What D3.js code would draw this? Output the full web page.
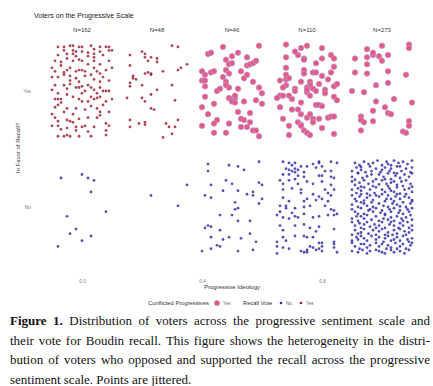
<!DOCTYPE html>
<html><head><meta charset="utf-8">
<script src="https://cdn.jsdelivr.net/npm/d3@7"></script>
<style>body{margin:0;background:#fff}</style>
</head><body>
<svg id="chart" width="433" height="386"></svg>
<script>
// ---------------- DATA ----------------
const groupIdeology = [0, 0.25, 0.5, 0.75, 1.0];
const groupLabels = ["N=162", "N=48", "N=46", "N=110", "N=273"];
const xTicks = [0.0, 0.4, 0.8];
const voteLevels = [1, 2];               // 1 = No, 2 = Yes
const voteNames = ["No", "Yes"];
const conflictedGroup = [false, false, true, true, true]; // Yes voters in these groups are "Conflicted Progressives"

// Jitter offsets, in hundredths of a unit: x,y pairs
const yesJitterG1 = [-8,38,-6,38,-4,39,-3,39,-1,38,0,38,3,39,6,38,8,38,9,38,
 -8,31,-6,35,-5,32,-3,35,-3,32,-2,34,-2,30,0,34,2,33,4,29,4,32,6,34,7,31,9,35,10,35,
 -9,26,-7,25,-5,28,-3,26,-1,27,0,26,2,23,4,26,6,23,9,26,
 -10,20,-9,17,-6,16,-5,18,-4,20,-2,17,-1,18,0,18,1,17,4,20,5,17,8,18,
 -10,12,-8,12,-6,14,-4,13,-4,9,-2,11,1,13,4,10,6,8,9,9,
 -10,1,-9,5,-6,5,-4,6,-2,3,-1,3,0,4,2,5,3,3,4,1,6,3,8,0,9,0,7,0,
 -9,-7,-8,-7,-7,-7,-5,-3,-3,-5,-1,-7,0,-9,2,-9,3,-5,4,-7,5,-6,6,-5,8,-9,10,-7,
 -9,-14,-8,-12,-7,-10,-5,-15,-2,-15,1,-16,3,-13,5,-15,6,-18,9,-18,
 -9,-23,-8,-26,-5,-25,-4,-26,-3,-27,-1,-24,2,-23,5,-23,6,-21,
 -10,-30,-8,-30,-7,-33,-5,-32,-2,-31,0,-31,1,-30,4,-31,8,-34,8,-38,
 -8,-39,-6,-39,-5,-38,-4,-39,-1,-39,2,-35,3,-39,
 -7,22,3,14,7,12,-1,8,5,-2,-3,-20,8,-28,-6,-18,2,30,10,20,-10,-20,0,-2,7,-12,-5,2,4,36,-2,-34,9,-30,1,0,-8,-2,6,15];
const yesJitterG2 = [5,39,7,38,-9,31,-5,34,-4,32,-4,29,-2,29,0,28,-3,26,0,25,-9,22,10,23,8,20,7,18,2,17,
 -8,13,-4,15,-3,16,-2,14,-2,15,-8,11,-7,10,-9,7,-9,4,-5,5,5,5,0,1,-2,-3,-10,-6,-5,-6,-4,-9,6,-8,
 -2,-15,-1,-16,-9,-25,-6,-28,-4,-27,-4,-29,7,-25,3,-28,4,-31,6,-31,-9,-31,5,-37,2,-40];
const yesJitterG3 = [9,39,-8,32,-7,33,2,33,5,29,-2,27,-1,23,0,24,5,22,6,23,7,24,-10,17,-9,14,-7,16,-6,17,
 -2,18,-1,15,3,17,-10,9,-9,9,-9,4,-3,12,-2,8,-2,5,-1,3,4,11,7,8,9,3,-5,0,2,2,-1,-6,0,-7,1,-6,1,-4,
 0,-9,-9,-5,-6,-11,1,-10,4,-9,8,-8,10,-11,-10,-14,6,-19,-5,-25,-6,-28,-1,-28,3,-24,4,-25,6,-27,
 3,-31,5,-31,7,-34,8,-34,-6,-36,9,-39,-3,38,8,26,-4,2,10,-2,-8,-20,2,-18,-2,-36,5,14,0,30,-10,-30];
const yesJitterG4 = [-7,40,-2,37,0,39,5,37,-7,29,-3,31,-1,28,-1,27,5,28,8,31,9,28,-7,20,-1,18,-1,15,2,16,
 3,16,8,16,9,21,-7,14,-9,9,-7,10,-6,11,-7,5,-8,3,1,8,1,5,2,2,0,3,3,0,4,6,5,13,6,1,9,4,10,6,-4,2,-4,0,
 0,-1,0,1,-9,-4,-8,-4,-6,-4,-5,-7,-2,-10,1,-4,9,-5,10,-8,-9,-14,-5,-16,-3,-16,-2,-20,3,-12,4,-12,5,-13,
 0,-23,1,-20,2,-24,2,-27,4,-24,7,-23,8,-22,9,-22,-6,-30,-3,-27,-2,-29,-2,-30,5,-32,-1,-34,0,-36,-6,-38,
 9,-37,-4,34,3,24,6,-2,-8,-24,1,-38,-2,8,7,10,-10,-6];
const yesJitterG5 = [0,39,9,40,9,37,-5,36,-9,28,-5,29,-3,31,-3,33,-1,30,2,31,0,26,-5,23,-9,16,-5,15,2,17,
 8,14,-2,5,2,7,-10,0,-6,-1,4,-7,-2,-9,10,-10,1,-14,-3,-17,2,-19,3,-20,-7,-22,-7,-25,-6,-27,-3,-26,
 9,-26,9,-30,-7,-34,7,-35,8,-36];

const noJitterG1 = [-7,25,0,28,2,25,4,23,3,13,8,-4,-5,-8,-2,-19,-4,-23,3,-25,0,-29,-8,-34];
const noJitterG2 = [-2,10,10,19,7,1];
const noJitterG3 = [-8,37,-8,31,-7,19,-9,10,-7,8,-4,-7,-8,-16,-9,-18,-7,-17,-4,-20,-7,-26,-5,-33,-4,-34,
 -7,-36,-10,-38,-1,36,2,35,4,32,9,39,-2,23,0,20,9,21,10,19,-3,14,2,14,5,11,7,13,7,10,10,7,9,3,1,4,
 2,-1,1,-2,0,-7,2,-12,6,-12,6,-23,-3,-28,-1,-26,3,-27,8,-30,2,-38,7,-37];
const noJitterG4 = [-8,39,-6,38,-5,36,-4,38,-2,35,2,37,4,39,4,38,8,39,10,38,-7,33,-6,32,-5,31,-4,33,-3,32,
 -1,30,0,35,3,34,5,35,6,31,8,31,-8,28,-6,28,-4,30,-3,27,-1,26,4,27,5,27,8,26,9,25,-6,23,-4,24,-8,20,
 -8,15,-5,16,-3,20,-2,15,0,22,2,20,5,22,6,15,8,19,9,15,-9,23,-8,8,-2,12,2,11,4,9,7,12,8,10,-6,5,-1,5,
 0,7,3,6,5,7,7,5,-9,1,-7,1,-7,-1,-4,-1,-1,0,1,1,6,1,8,-2,9,-3,-9,-4,-5,-5,-10,-7,-8,-9,-6,-10,-4,-8,
 -3,-9,-1,-6,2,-9,4,-8,7,-7,9,-7,10,-6,-9,-16,-8,-20,-4,-16,-1,-15,1,-18,3,-21,4,-17,9,-19,-8,-26,
 -7,-29,-4,-25,-1,-25,0,-26,2,-26,4,-31,5,-31,9,-30,9,-32,-10,-30,-10,-34,-8,-35,-6,-36,-2,-38,-1,-39,
 0,-37,1,-34,2,-35,3,-37,4,-36,5,-38,5,-34,9,-35,10,-39,-10,-40,0,-39];
const noJitterG5 = [-9,38,-7.5,36,-6,39,-4.5,37,-3,38,-1.5,40,0,36,1.5,39,2,37,4,40,5.5,38,5,35,7,39,8.5,37,10,40,-7,34.5,3,36,
 -10,31,-8.5,34,-7,32,-5.5,30,-4,35,-3.5,31,-2,33,-0.5,30,1,34,2.5,31,3,33,4,29.5,6,35,6.5,31,8,33,9.5,30,10,34,-8,29.5,0,32,
 -10,26,-8,29,-6.5,25,-5,26.5,-3.5,28,-2,24,-1,28,0.5,26,2,29,3,24,4.5,27,6,25,7.5,28,9,26,10,29,-9,23.5,5,29,1,24,
 -10,22,-9,19,-7.5,21,-6,23,-4.5,20,-3,22,-3,18,-1,19.5,0,23,1.5,20,2,18,4,22,5,19,6.5,22,7,18,8,23,9.5,20,10,17.5,-7,17.5,3,21,
 -10,15,-8.5,12,-7,14,-6,17,-4,15,-2.5,12,-2,17,0,15,1,13,2.5,16,4,13,5,17,6,11.5,7.5,15,9,16,10,13,-8,16,3,14,-5,11.5,
 -10,10,-9,7,-7.5,9,-7,11,-5,8,-4,10,-3,6,-1,9,0,11,1.5,7,2,10,3,7,4.5,9,5,11,6,7,7.5,9,8,11,9,8,10,6,-6,5.5,-2,10,
 -10,2,-8.5,5,-8,0,-6,3,-5,1,-3.5,4,-3,0,-1,3,0.5,1,1,5,2,0,3.5,3,4,5,5,2,7,4,8,0,9.5,3,10,5,-7,4,6,0.5,
 -10,-2,-9,-4,-7,-1,-6,-6,-4.5,-3,-3,-4,-2,-1,-0.5,-5,0,-3,1,-6,2.5,-2,3,-4,4,-1,5.5,-5,6,-3,7,-6,8.5,-2,9,-4,10,-1,-8,-6,-4,-2,
 -10,-10,-8.5,-8,-8,-12,-6,-10,-5,-7,-3.5,-11,-2,-8,-1,-12,0.5,-10,1,-7,3,-9,4,-12,5,-8,6.5,-10,7,-12,8,-9,9.5,-7,10,-11,-7,-8,2,-11,
 -10,-13,-9,-16,-7.5,-14,-7,-18,-5,-13,-4,-17,-2.5,-15,-1,-16,0,-13,1,-18,2.5,-15,3,-13,4,-16,5.5,-18,6,-14,7,-16,8.5,-13,9,-18,10,-16,-6,-15,-2,-18,
 -10,-24,-9,-20,-7,-22,-6,-19,-4.5,-23,-3,-20,-2,-24,-1,-21,0,-19,2,-22,3.5,-24,4,-20,5,-23,6,-19,7.5,-21,8,-24,9,-22,10,-20,-8,-23,1,-24,
 -10,-29,-8.5,-26,-8,-28,-6,-27,-5,-29,-3.5,-25,-2,-28,-1,-26,0.5,-30,1,-27,2,-25,3,-29,5,-26,6,-29,7,-25,8.5,-28,9,-30,10,-27,-7,-25,4,-28,
 -10,-31,-9,-34,-7.5,-36,-7,-32,-5,-35,-4,-33,-2,-31,-1,-34,0,-32,1.5,-36,2,-33,3,-35,4.5,-31,6,-34,7,-32,8,-36,9.5,-33,10,-31,-6,-32,5,-36,
 -10,-38,-8,-39,-6.5,-37,-5,-40,-4,-38,-2,-37,0,-39,1,-40,3,-37,4,-39,6,-38,7.5,-40,9,-37,-1,-38];

const yesJitter = [yesJitterG1, yesJitterG2, yesJitterG3, yesJitterG4, yesJitterG5];
const noJitter = [noJitterG1, noJitterG2, noJitterG3, noJitterG4, noJitterG5];

const captionLines = [
  "Figure 1. Distribution of voters across the progressive sentiment scale and",
  "their vote for Boudin recall. This figure shows the heterogeneity in the distri-",
  "bution of voters who opposed and supported the recall across the progressive",
  "sentiment scale. Points are jittered."
];

// ---------------- BUILD POINTS ----------------
const points = [];
function addPoints(arrs, vote) {
  arrs.forEach((arr, g) => {
    for (let i = 0; i < arr.length; i += 2) {
      points.push({
        ideology: groupIdeology[g] + arr[i] / 100,
        vote: voteLevels[vote] + arr[i + 1] / 100,
        voteName: voteNames[vote],
        conflicted: vote === 1 && conflictedGroup[g]
      });
    }
  });
}
addPoints(noJitter, 0);
addPoints(yesJitter, 1);

// ---------------- DRAW ----------------
const svg = d3.select("#chart");
const sans = "'Liberation Sans', Arial, Helvetica, sans-serif";
const colYes = "#9b1f2e", colNo = "#2f2ba3", colConfFill = "#e95a78", colConfStroke = "#b890e0";

const x = d3.scaleLinear().domain([-0.14, 1.14]).range([40, 424]);
const y = d3.scaleLinear().domain([1, 2]).range([207, 91]);

// title
svg.append("text").attr("x", 34).attr("y", 17.5).attr("font-family", sans)
  .attr("font-size", 7).attr("fill", "#222").text("Voters on the Progressive Scale");

// N labels
svg.selectAll("text.nlab").data(groupLabels).join("text").attr("class", "nlab")
  .attr("x", (d, i) => x(groupIdeology[i])).attr("y", y(2.53) + 2)
  .attr("text-anchor", "middle").attr("font-family", sans).attr("font-size", 6)
  .attr("fill", "#333").text(d => d);

// points
const g = svg.append("g");
g.selectAll("circle.pt").data(points.filter(p => !p.conflicted)).join("circle")
  .attr("class", "pt")
  .attr("cx", d => x(d.ideology)).attr("cy", d => y(d.vote)).attr("r", 1.4)
  .attr("fill", d => d.voteName === "Yes" ? colYes : colNo)
  .attr("fill-opacity", 0.82);
g.selectAll("circle.cf").data(points.filter(p => p.conflicted)).join("circle")
  .attr("class", "cf")
  .attr("cx", d => x(d.ideology)).attr("cy", d => y(d.vote)).attr("r", 2.75)
  .attr("fill", colConfFill).attr("stroke", colConfStroke).attr("stroke-width", 0.8);

// x axis
const xAxis = svg.append("g").attr("transform", "translate(0,277)")
  .call(d3.axisBottom(x).tickValues(xTicks).tickFormat(d3.format(".1f")).tickSize(0).tickPadding(3));
xAxis.select(".domain").remove();
xAxis.selectAll("text").attr("font-family", sans).attr("font-size", 4.6).attr("fill", "#777");

// y axis
const yAxis = svg.append("g").attr("transform", "translate(31,0)")
  .call(d3.axisLeft(y).tickValues(voteLevels).tickFormat((d, i) => voteNames[i]).tickSize(0).tickPadding(0));
yAxis.select(".domain").remove();
yAxis.selectAll("text").attr("font-family", sans).attr("font-size", 4.8).attr("fill", "#777");

// axis titles
svg.append("text").attr("x", 232).attr("y", 289).attr("text-anchor", "middle")
  .attr("font-family", sans).attr("font-size", 6).attr("fill", "#333").text("Progressive Ideology");
svg.append("text").attr("transform", "translate(20,148) rotate(-90)").attr("text-anchor", "middle")
  .attr("font-family", sans).attr("font-size", 6).attr("fill", "#333").text("In Favor of Recall?");

// legend
const ly = 303;
const leg = svg.append("g").attr("font-family", sans);
leg.append("text").attr("x", 148).attr("y", ly + 2).attr("font-size", 5.8).attr("fill", "#333").text("Conflicted Progressives");
leg.append("circle").attr("cx", 217).attr("cy", ly).attr("r", 2.6).attr("fill", colConfFill).attr("stroke", colConfStroke).attr("stroke-width", 0.7);
leg.append("text").attr("x", 223).attr("y", ly + 1.7).attr("font-size", 4.6).attr("fill", "#666").text("Yes");
leg.append("text").attr("x", 243).attr("y", ly + 2).attr("font-size", 5.8).attr("fill", "#333").text("Recall Vote");
leg.append("circle").attr("cx", 281).attr("cy", ly).attr("r", 1.3).attr("fill", colNo);
leg.append("text").attr("x", 286).attr("y", ly + 1.7).attr("font-size", 4.6).attr("fill", "#666").text("No");
leg.append("circle").attr("cx", 301).attr("cy", ly).attr("r", 1.3).attr("fill", colYes);
leg.append("text").attr("x", 306).attr("y", ly + 1.7).attr("font-size", 4.6).attr("fill", "#666").text("Yes");

// caption (justified lines)
const serif = "'Liberation Serif', 'Times New Roman', Times, serif";
const baselines = [325, 344.5, 364, 383.5];
const capX0 = 10, capX1 = 430;
captionLines.forEach((line, i) => {
  const words = line.split(" ");
  const cg = svg.append("g");
  const nodes = words.map((w, j) => cg.append("text")
    .attr("y", baselines[i]).attr("font-family", serif).attr("font-size", 13)
    .attr("font-weight", (i === 0 && j < 2) ? "bold" : "normal").attr("fill", "#111").text(w));
  const widths = nodes.map(n => n.node().getComputedTextLength());
  const total = d3.sum(widths);
  const gap = i < captionLines.length - 1 ? (capX1 - capX0 - total) / (words.length - 1) : 3.25;
  let xx = capX0;
  nodes.forEach((n, j) => { n.attr("x", xx); xx += widths[j] + gap; });
});
</script>
</body></html>
